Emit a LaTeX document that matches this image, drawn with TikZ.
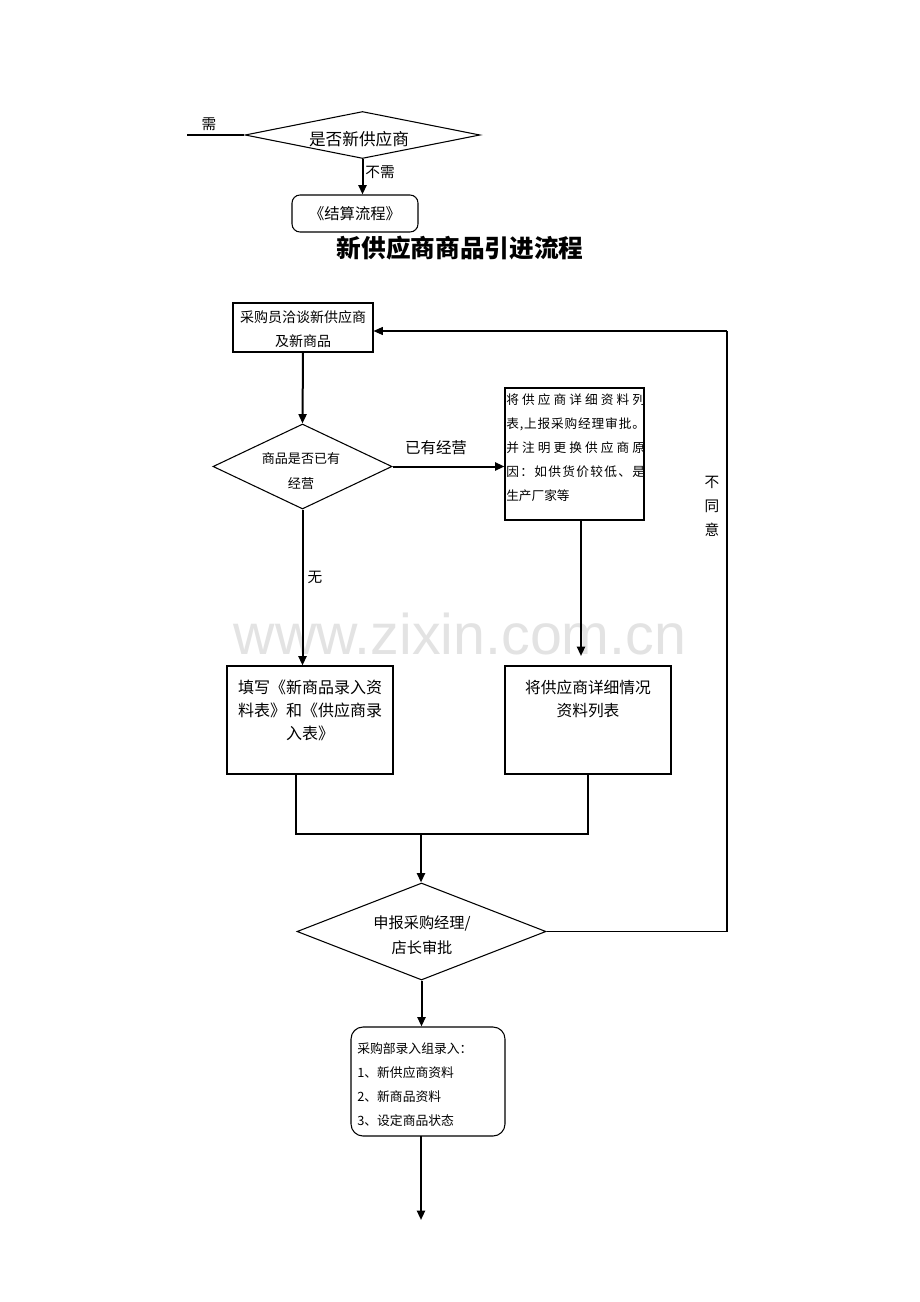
\documentclass[tikz,border=0pt]{standalone}
\usepackage{fontspec}
\usetikzlibrary{shapes.geometric,arrows.meta}
\newfontfamily\cjk{Noto Sans CJK SC}
\newfontfamily\wmfont{Liberation Sans}
\def\sprA#1{\ifx\relax#1\else#1\hfil\expandafter\sprA\fi}
\newcommand\spr[1]{\makebox[104pt][s]{\sprA#1\relax\unskip}}
\newcommand\fs[2]{\fontsize{#1}{#2}\selectfont}
\begin{document}
\begin{tikzpicture}[x=0.75pt,y=-0.75pt,
  every node/.style={font=\cjk},
  arr/.style={line width=1.5pt,-{Triangle[length=7pt,width=6pt]}},
  ln/.style={line width=0.8pt},
  boxs/.style={draw,line width=0.8pt,rectangle,inner sep=0pt},
  rbox/.style={boxs,rounded corners=#1},
  dia/.style={draw,line width=0.8pt,diamond,inner sep=0pt,aspect=1}]
\useasboundingbox (0,0) rectangle (920,1302);
\fill[white] (0,0) rectangle (920,1302);
% watermark
\node[font=\wmfont\fs{43}{43},text=black!11] (wm) at (460,634) {www.zixin.com.cn};
% top part
\node[dia,minimum width=176.25pt,minimum height=35.25pt] (d0) at (362.5,135) {};
\node[font=\cjk\fs{12.5}{15}] (d0t) at (359,139) {是否新供应商};
\coordinate (in0) at (187,135);
\draw[ln] (in0) -- (d0.west);
\node[font=\cjk\fs{11}{13}] (lx) at (209,124) {需};
\node[rbox=6pt,minimum width=94.5pt,minimum height=27.75pt] (endb) at (355,213.5) {};
\node[font=\cjk\fs{11.5}{14}] (endt) at (355,214) {《结算流程》};
\draw[arr] (d0.south) -- (d0.south |- endb.north);
\node[font=\cjk\fs{11}{13}] (lbx) at (380,172) {不需};
% title
\node[font=\cjk\bfseries\fs{18.5}{22}] (title) at (460,248) {新供应商商品引进流程};
% main flow
\node[boxs,minimum width=105pt,minimum height=36.75pt] (b1) at (303,327.5) {};
\node[align=center,font=\cjk\fs{10.5}{18}] (b1t) at (303,329) {采购员洽谈新供应商\\及新商品};
\node[dia,minimum width=134.25pt,minimum height=63.75pt] (d2) at (302.5,466.5) {};
\node[align=center,font=\cjk\fs{9.8}{18.5}] (d2t) at (301,471) {商品是否已有\\经营};
\draw[arr] (b1.south) -- (d2.north);
\node[boxs,minimum width=104.25pt,minimum height=99pt] (rb) at (574.5,454) {};
\node[anchor=north west,inner sep=0pt,align=left,text width=104pt,font=\cjk\fs{9.5}{18}] (rbt) at (506,393)
 {\spr{将供应商详细资料列}\\\spr{表,上报采购经理审批。}\\\spr{并注明更换供应商原}\\\spr{因：如供货价较低、是}\\生产厂家等};
\draw[arr] (d2.east) -- (d2.east -| rb.west);
\node[font=\cjk\fs{11.6}{14}] (yy) at (436,448) {已有经营};
\node[boxs,minimum width=124.5pt,minimum height=81pt] (lb) at (310,720) {};
\node[align=center,font=\cjk\fs{12}{17.25}] (lbt) at (310,710) {填写《新商品录入资\\料表》和《供应商录\\入表》};
\node[boxs,minimum width=124.5pt,minimum height=81pt] (rb2) at (588,720) {};
\node[align=center,font=\cjk\fs{11.8}{17.25}] (rb2t) at (588,699) {将供应商详细情况\\资料列表};
\draw[arr] (d2.south) -- (d2.south |- lb.north);
\node[font=\cjk\fs{11}{13}] (wu) at (315,577) {无};
\coordinate (ra) at (581,520);
\coordinate (rz) at (581,656);
\draw[arr] (ra) -- (rz);
% merge
\coordinate (ml) at (296,774);
\coordinate (mr) at (588,774);
\coordinate (mj) at (421,834);
\draw[ln] (ml) -- (ml |- mj) -- (mr |- mj) -- (mr);
\node[dia,minimum width=186.75pt,minimum height=72.75pt] (d3) at (421.5,931.5) {};
\node[align=center,font=\cjk\fs{11.4}{18.75}] (d3t) at (422,935) {申报采购经理/\\店长审批};
\draw[arr] (mj) -- (mj |- d3.north);
% feedback
\coordinate (fb) at (727,331);
\draw[ln] (d3.east) -- (d3.east -| fb) -- (fb);
\draw[arr,line width=0.8pt] (fb) -- (fb -| b1.east);
\node[align=center,font=\cjk\fs{11}{18}] (bty) at (712,506) {不\\同\\意};
% bottom
\node[rbox=9pt,minimum width=115.5pt,minimum height=81.75pt] (bb) at (428,1081.5) {};
\node[anchor=west,inner sep=0pt,align=left,font=\cjk\fs{9.6}{18}] (bbt) at (357,1085) {采购部录入组录入：\\1、新供应商资料\\2、新商品资料\\3、设定商品状态};
\draw[arr] (d3.south) -- (d3.south |- bb.north);
\coordinate (ba) at (421,1136);
\coordinate (bz) at (421,1220);
\draw[arr] (ba) -- (bz);
\end{tikzpicture}
\end{document}
